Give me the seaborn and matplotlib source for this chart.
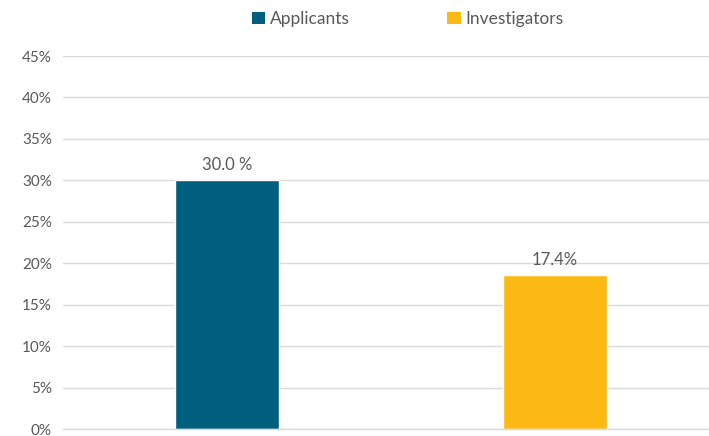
import matplotlib
matplotlib.use("Agg")
import matplotlib.pyplot as plt
import seaborn as sns
import pandas as pd
from matplotlib.patches import Patch
from matplotlib.ticker import FuncFormatter

categories = ["Applicants", "Investigators"]
values = [30.0, 18.6]
value_labels = ["30.0 %", "17.4%"]
colors = ["#005E7E", "#FDB913"]
yticks = [0, 5, 10, 15, 20, 25, 30, 35, 40, 45]

sns.set_theme(style="white")
plt.rcParams['font.family'] = ['Lato', 'DejaVu Sans']

df = pd.DataFrame({"cat": categories, "val": values})

fig = plt.figure(figsize=(7.09, 4.36), dpi=100)
ax = fig.add_axes([63/709, 7/436, 656/709, 373/436])

sns.barplot(data=df, x="cat", y="val", hue="cat", palette=colors,
            width=0.318, ax=ax, legend=False, saturation=1)

ax.set_ylim(0, 45)
ax.set_xlim(-0.5, 1.5)
ax.set_yticks(yticks)
ax.yaxis.set_major_formatter(FuncFormatter(lambda v, p: f"{int(v)}%"))
ax.grid(axis="y", color="#D9D9D9", linewidth=1)
ax.set_axisbelow(True)
for s in ["top", "right", "left"]:
    ax.spines[s].set_visible(False)
ax.spines["bottom"].set_color("#D9D9D9")
ax.spines["bottom"].set_linewidth(1)
ax.set_xticks([])
ax.set_xlabel("")
ax.set_ylabel("")
ax.tick_params(axis="y", length=0, pad=8, labelsize=11, labelcolor="#595959")

for cont, lab in zip(ax.containers, value_labels):
    ax.bar_label(cont, labels=[lab], padding=5, fontsize=12, color="#595959")

handles = [Patch(facecolor=c, edgecolor="none") for c in colors]
fig.legend(handles, categories, loc="center", bbox_to_anchor=(408/709, 1 - 19/436),
           ncol=2, frameon=False, fontsize=12.5, labelcolor="#595959",
           handlelength=0.75, handleheight=0.75, handletextpad=0.3,
           columnspacing=5.6)

fig.savefig("out.png", dpi=100)
